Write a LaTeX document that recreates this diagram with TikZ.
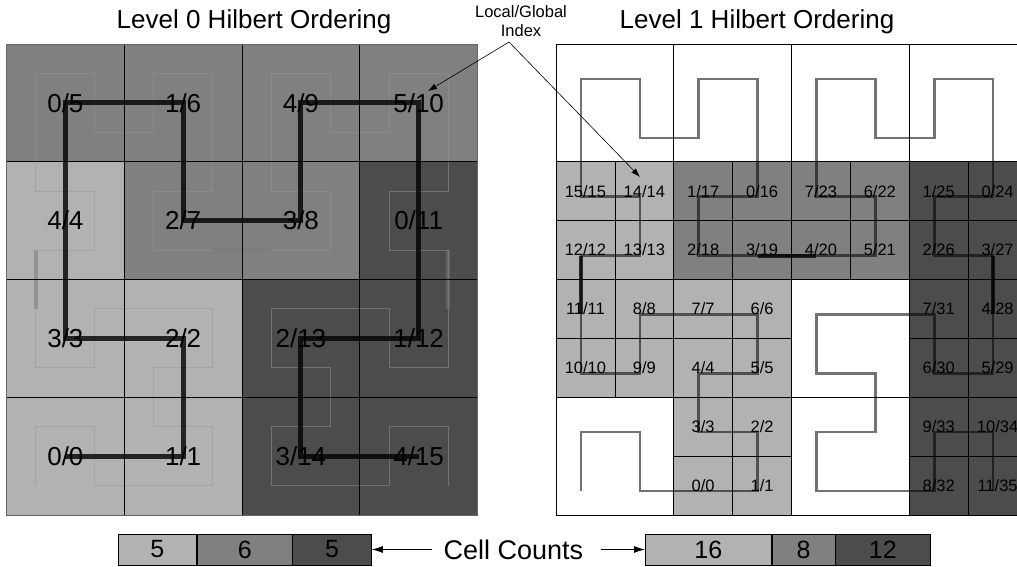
\documentclass[tikz,border=0pt]{standalone}
\usepackage{fontspec}
\setmainfont{Liberation Sans}
\usetikzlibrary{arrows.meta}
\definecolor{lg}{gray}{0.7}
\definecolor{mg}{gray}{0.5}
\definecolor{dg}{gray}{0.3}
\newcommand{\hilbcurve}{(0,0) -- (0,1) -- (1,1) -- (1,0) -- (2,0) -- (3,0) -- (3,1) -- (2,1) -- (2,2) -- (3,2) -- (3,3) -- (2,3) -- (1,3) -- (1,2) -- (0,2) -- (0,3) -- (0,4) -- (1,4) -- (1,5) -- (0,5) -- (0,6) -- (0,7) -- (1,7) -- (1,6) -- (2,6) -- (2,7) -- (3,7) -- (3,6) -- (3,5) -- (2,5) -- (2,4) -- (3,4) -- (4,4) -- (5,4) -- (5,5) -- (4,5) -- (4,6) -- (4,7) -- (5,7) -- (5,6) -- (6,6) -- (6,7) -- (7,7) -- (7,6) -- (7,5) -- (6,5) -- (6,4) -- (7,4) -- (7,3) -- (7,2) -- (6,2) -- (6,3) -- (5,3) -- (4,3) -- (4,2) -- (5,2) -- (5,1) -- (4,1) -- (4,0) -- (5,0) -- (6,0) -- (6,1) -- (7,1) -- (7,0)}
\begin{document}
\begin{tikzpicture}[x=1pt,y=-1pt,
  gridline/.style={draw=black,line width=0.7pt},
  biglab/.style={font=\fontsize{26}{30}\selectfont,inner sep=0pt},
  smalllab/.style={font=\fontsize{16.5}{19}\selectfont,inner sep=0pt},
  titlelab/.style={font=\fontsize{26}{30}\selectfont,inner sep=0pt},
  faintcurve/.style={draw={rgb,255:red,150;green,150;blue,150},line width=1pt,opacity=0.5},
  faintseg/.style={draw={rgb,255:red,122;green,122;blue,122},line width=4pt,opacity=0.5},
  levelzeropath/.style={draw=black,line width=4.8pt,opacity=0.8},
  levelonecurve/.style={draw=black,line width=2.6pt,opacity=0.55},
  leveloneseg/.style={draw=black,line width=4pt,opacity=0.75},
  callout/.style={draw=black,line width=0.6pt,-{Latex[length=9pt,width=6pt]}},
  countarrow/.style={draw=black,line width=0.8pt,-{Latex[length=11pt,width=7pt]}},
  countbar/.style={draw=black,line width=0.8pt,minimum height=31pt,inner sep=0pt,anchor=west,font=\fontsize{25}{30}\selectfont}
]
\useasboundingbox (0,0) rectangle (1017,567);
\clip (0,0) rectangle (1017,567);

% ---------- left grid: fills ----------
\begin{scope}[shift={(6.5pt,-44pt)},x=117.75pt,y=-117.75pt]
  \foreach \c/\r/\col in {0/0/mg,1/0/mg,2/0/mg,3/0/mg,0/1/lg,1/1/mg,2/1/mg,3/1/dg,0/2/lg,1/2/lg,2/2/dg,3/2/dg,0/3/lg,1/3/lg,2/3/dg,3/3/dg}
    \fill[\col] (\c,\r) rectangle ++(1,1);
\end{scope}
% faint level-1 curve on the left
\begin{scope}[shift={(6.5pt,-515pt)},x=58.875pt,y=58.875pt,shift={(0.5,0.5)}]
  \draw[faintcurve] \hilbcurve;
  \draw[faintseg] (0,3) -- (0,4) (3,4) -- (4,4) (7,4) -- (7,3);
\end{scope}
\begin{scope}[shift={(6.5pt,-44pt)},x=117.75pt,y=-117.75pt]
  \foreach \k in {1,2,3} {
    \draw[gridline] (\k,0) -- (\k,4);
    \draw[gridline] (0,\k) -- (4,\k);
  }
  \draw[gridline,draw=black!60] (0,0) rectangle (4,4);
  \draw[levelzeropath] (0.5,3.5) -- (1.5,3.5) -- (1.5,2.5) -- (0.5,2.5) -- (0.5,0.5) -- (1.5,0.5) -- (1.5,1.5) -- (2.5,1.5) -- (2.5,0.5) -- (3.5,0.5) -- (3.5,2.5) -- (2.5,2.5) -- (2.5,3.5) -- (3.5,3.5);
  \foreach \c/\r/\a/\b in {0/0/0/5,1/0/1/6,2/0/4/9,3/0/5/10,0/1/4/4,1/1/2/7,2/1/3/8,3/1/0/11,0/2/3/3,1/2/2/2,2/2/2/13,3/2/1/12,0/3/0/0,1/3/1/1,2/3/3/14,3/3/4/15}
    \node[biglab] (L\a-\b) at (\c+0.5,\r+0.5) {\a/\b};
\end{scope}

% ---------- right grid ----------
\begin{scope}[shift={(556pt,-44pt)},x=117.75pt,y=-117.75pt]
  \foreach \c/\r/\col in {0/1/lg,1/1/mg,2/1/mg,3/1/dg,0/2/lg,1/2/lg,3/2/dg,1/3/lg,3/3/dg} {
    \fill[\col] (\c,\r) rectangle ++(1,1);
    \draw[gridline] (\c+0.5,\r) -- ++(0,1) (\c,\r+0.5) -- ++(1,0);
  }
  \foreach \k in {1,2,3} {
    \draw[gridline] (\k,0) -- (\k,4);
    \draw[gridline] (0,\k) -- (4,\k);
  }
  \draw[gridline] (0,0) rectangle (4,4);
\end{scope}
\begin{scope}[shift={(556pt,-515pt)},x=58.875pt,y=58.875pt,shift={(0.5,0.5)}]
  \begin{scope}[xshift=-4.5pt,yshift=-5.5pt]
    \draw[levelonecurve] \hilbcurve;
    \draw[leveloneseg] (0,3) -- (0,4) (3,4) -- (4,4) (7,4) -- (7,3);
  \end{scope}
  \foreach \i/\j/\a/\b in {2/0/0/0,3/0/1/1,3/1/2/2,2/1/3/3,2/2/4/4,3/2/5/5,3/3/6/6,2/3/7/7,1/3/8/8,1/2/9/9,0/2/10/10,0/3/11/11,0/4/12/12,1/4/13/13,1/5/14/14,0/5/15/15,3/5/0/16,2/5/1/17,2/4/2/18,3/4/3/19,4/4/4/20,5/4/5/21,5/5/6/22,4/5/7/23,7/5/0/24,6/5/1/25,6/4/2/26,7/4/3/27,7/3/4/28,7/2/5/29,6/2/6/30,6/3/7/31,6/0/8/32,6/1/9/33,7/1/10/34,7/0/11/35}
    \node[smalllab] (R\a-\b) at (\i,\j) {\a/\b};
\end{scope}

% ---------- titles and callout ----------
\node[titlelab] (t0) at (254,22) {Level 0 Hilbert Ordering};
\node[titlelab] (t1) at (757,22) {Level 1 Hilbert Ordering};
\node[smalllab,align=center] (idx) at (521,21) {Local/Global\\Index};
\coordinate (apex) at (509,42);
\coordinate (tipA) at (428,91);
\coordinate (tipB) at (640,177);
\draw[callout] (apex) -- (tipA);
\draw[callout] (apex) -- (tipB);

% ---------- cell count bars ----------
\node[countbar,fill=lg,minimum width=78.75pt] (bl1) at (117.5,549.5) {5};
\node[countbar,fill=mg,minimum width=94.5pt] (bl2) at (bl1.east) {6};
\node[countbar,fill=dg,minimum width=78.75pt] (bl3) at (bl2.east) {5};
\node[countbar,fill=lg,minimum width=125.8pt] (br1) at (645,549.5) {16};
\node[countbar,fill=mg,minimum width=62.9pt] (br2) at (br1.east) {8};
\node[countbar,fill=dg,minimum width=94.35pt] (br3) at (br2.east) {12};
\node[font=\fontsize{27}{30}\selectfont,inner sep=0pt] (cc) at (513.5,549.5) {Cell Counts};
\draw[countarrow] ([xshift=-12pt]cc.west) -- (bl3.east);
\draw[countarrow] ([xshift=18pt]cc.east) -- (br1.west);
\end{tikzpicture}
\end{document}
